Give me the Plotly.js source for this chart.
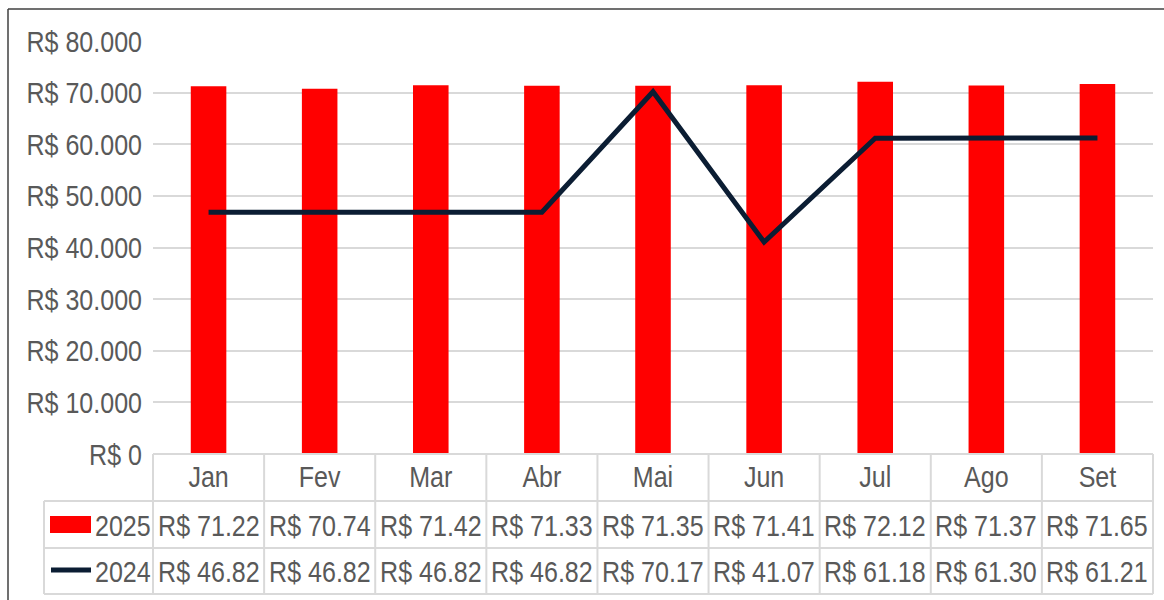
<!DOCTYPE html>
<html><head><meta charset="utf-8">
<script src="https://cdn.plot.ly/plotly-3.0.1.min.js"></script>
<style>html,body{margin:0;padding:0;background:#fff}#chart{width:1164px;height:600px}</style>
</head><body><div id="chart"></div>
<script>
const months = ["Jan","Fev","Mar","Abr","Mai","Jun","Jul","Ago","Set"];
const values2025 = [71220,70740,71420,71330,71350,71410,72120,71370,71650];
const values2024 = [46820,46820,46820,46820,70170,41070,61180,61300,61210];
const seriesNames = ["2025","2024"];

const FONT = '"Liberation Sans Narrow","Arial Narrow","Liberation Sans",Arial,sans-serif';
const FS = 30;
const NARROW = 0.835; // horizontal condensation to mimic a narrow face
const TXT = '#595959';
const GRID = '#d9d9d9';
const RED = '#ff0000';
const NAVY = '#0b1d33';

const W = 1164, H = 600;
const L = 153, R = 11, T = 41, B = 146;
const ph = H - T - B, pw = W - L - R;
const py = px => (H - B - px) / ph;   // pixel y -> paper
const pxx = px => (px - L) / pw;      // pixel x -> paper

const rowTop = [454, 501, 548, 594];
const shapes = [];
const lineStyle = {color: GRID, width: 2};
shapes.push({type:'line', xref:'paper', yref:'paper', x0:0, x1:1, y0:py(rowTop[0]), y1:py(rowTop[0]), line:lineStyle});
for (let i = 1; i < 4; i++) {
  shapes.push({type:'line', xref:'paper', yref:'paper', x0:pxx(44), x1:1, y0:py(rowTop[i]), y1:py(rowTop[i]), line:lineStyle});
}
for (let k = 0; k <= months.length; k++) {
  shapes.push({type:'line', xref:'paper', yref:'paper', x0:k/months.length, x1:k/months.length, y0:py(rowTop[0]), y1:py(rowTop[3]), line:lineStyle});
}
shapes.push({type:'line', xref:'paper', yref:'paper', x0:pxx(44), x1:pxx(44), y0:py(rowTop[1]), y1:py(rowTop[3]), line:lineStyle});
// legend keys
shapes.push({type:'rect', xref:'paper', yref:'paper', x0:pxx(50), x1:pxx(91), y0:py(533), y1:py(516), fillcolor:RED, line:{width:0}});
shapes.push({type:'line', xref:'paper', yref:'paper', x0:pxx(51), x1:pxx(91), y0:py(570), y1:py(570), line:{color:NAVY, width:5}});
// outer border
shapes.push({type:'line', xref:'paper', yref:'paper', x0:pxx(8), x1:pxx(1164), y0:py(9), y1:py(9), line:{color:'#404040', width:1.5}});
shapes.push({type:'line', xref:'paper', yref:'paper', x0:pxx(8), x1:pxx(8), y0:py(9), y1:py(600), line:{color:'#404040', width:1.5}});

const annotations = [];
const fmt = v => 'R$ ' + (v/1000).toFixed(2);
const rowsData = [values2025, values2024];
const rowCenters = [525, 571];
rowsData.forEach((vals, r) => {
  vals.forEach((v, i) => {
    annotations.push({x: (i + 0.5) / months.length, xref:'paper', y: py(rowCenters[r]), yref:'paper', text: fmt(v), showarrow:false,
      xanchor:'center', yanchor:'middle', font:{family:FONT, size:FS, color:TXT}});
  });
  annotations.push({x: pxx(95), xref:'paper', y: py(rowCenters[r]), yref:'paper', text: seriesNames[r], showarrow:false,
    xanchor:'left', align:'left', yanchor:'middle', xshift:-2, font:{family:FONT, size:FS, color:TXT}});
});

const traces = [
  {type:'bar', name:seriesNames[0], x:months, y:values2025, marker:{color:RED}, width:0.32, hoverinfo:'skip'},
  {type:'scatter', mode:'lines', name:seriesNames[1], x:months, y:values2024, line:{color:NAVY, width:5}, hoverinfo:'skip'}
];

const layout = {
  width: W, height: H,
  margin: {l: L, r: R, t: T, b: B, pad: 0},
  paper_bgcolor: '#fff', plot_bgcolor: '#fff',
  showlegend: false,
  separators: ',.',
  font: {family: FONT, color: TXT, size: FS},
  xaxis: {type:'category', range:[-0.5, months.length - 0.5], autorange:false, showgrid:false, zeroline:false, showline:false, ticks:'',
    ticklabelstandoff: 2, tickfont:{family:FONT, size:FS, color:TXT}},
  yaxis: {range:[0,80000], autorange:false, dtick:10000, tickprefix:'R$ ', tickformat:',d', showgrid:true, gridcolor:GRID, gridwidth:2,
    zeroline:false, showline:false, ticks:'', ticklabelstandoff: 10, tickfont:{family:FONT, size:FS, color:TXT}},
  shapes: shapes,
  annotations: annotations
};
Plotly.newPlot('chart', traces, layout, {staticPlot:true, displayModeBar:false}).then(gd => {
  gd.querySelectorAll('svg text').forEach(t => {
    const x = parseFloat(t.getAttribute('x')) || 0;
    const tr = t.getAttribute('transform') || '';
    t.setAttribute('transform', tr + ' translate(' + x + ',0) scale(' + NARROW + ',1) translate(' + (-x) + ',0)');
  });
});
</script></body></html>
